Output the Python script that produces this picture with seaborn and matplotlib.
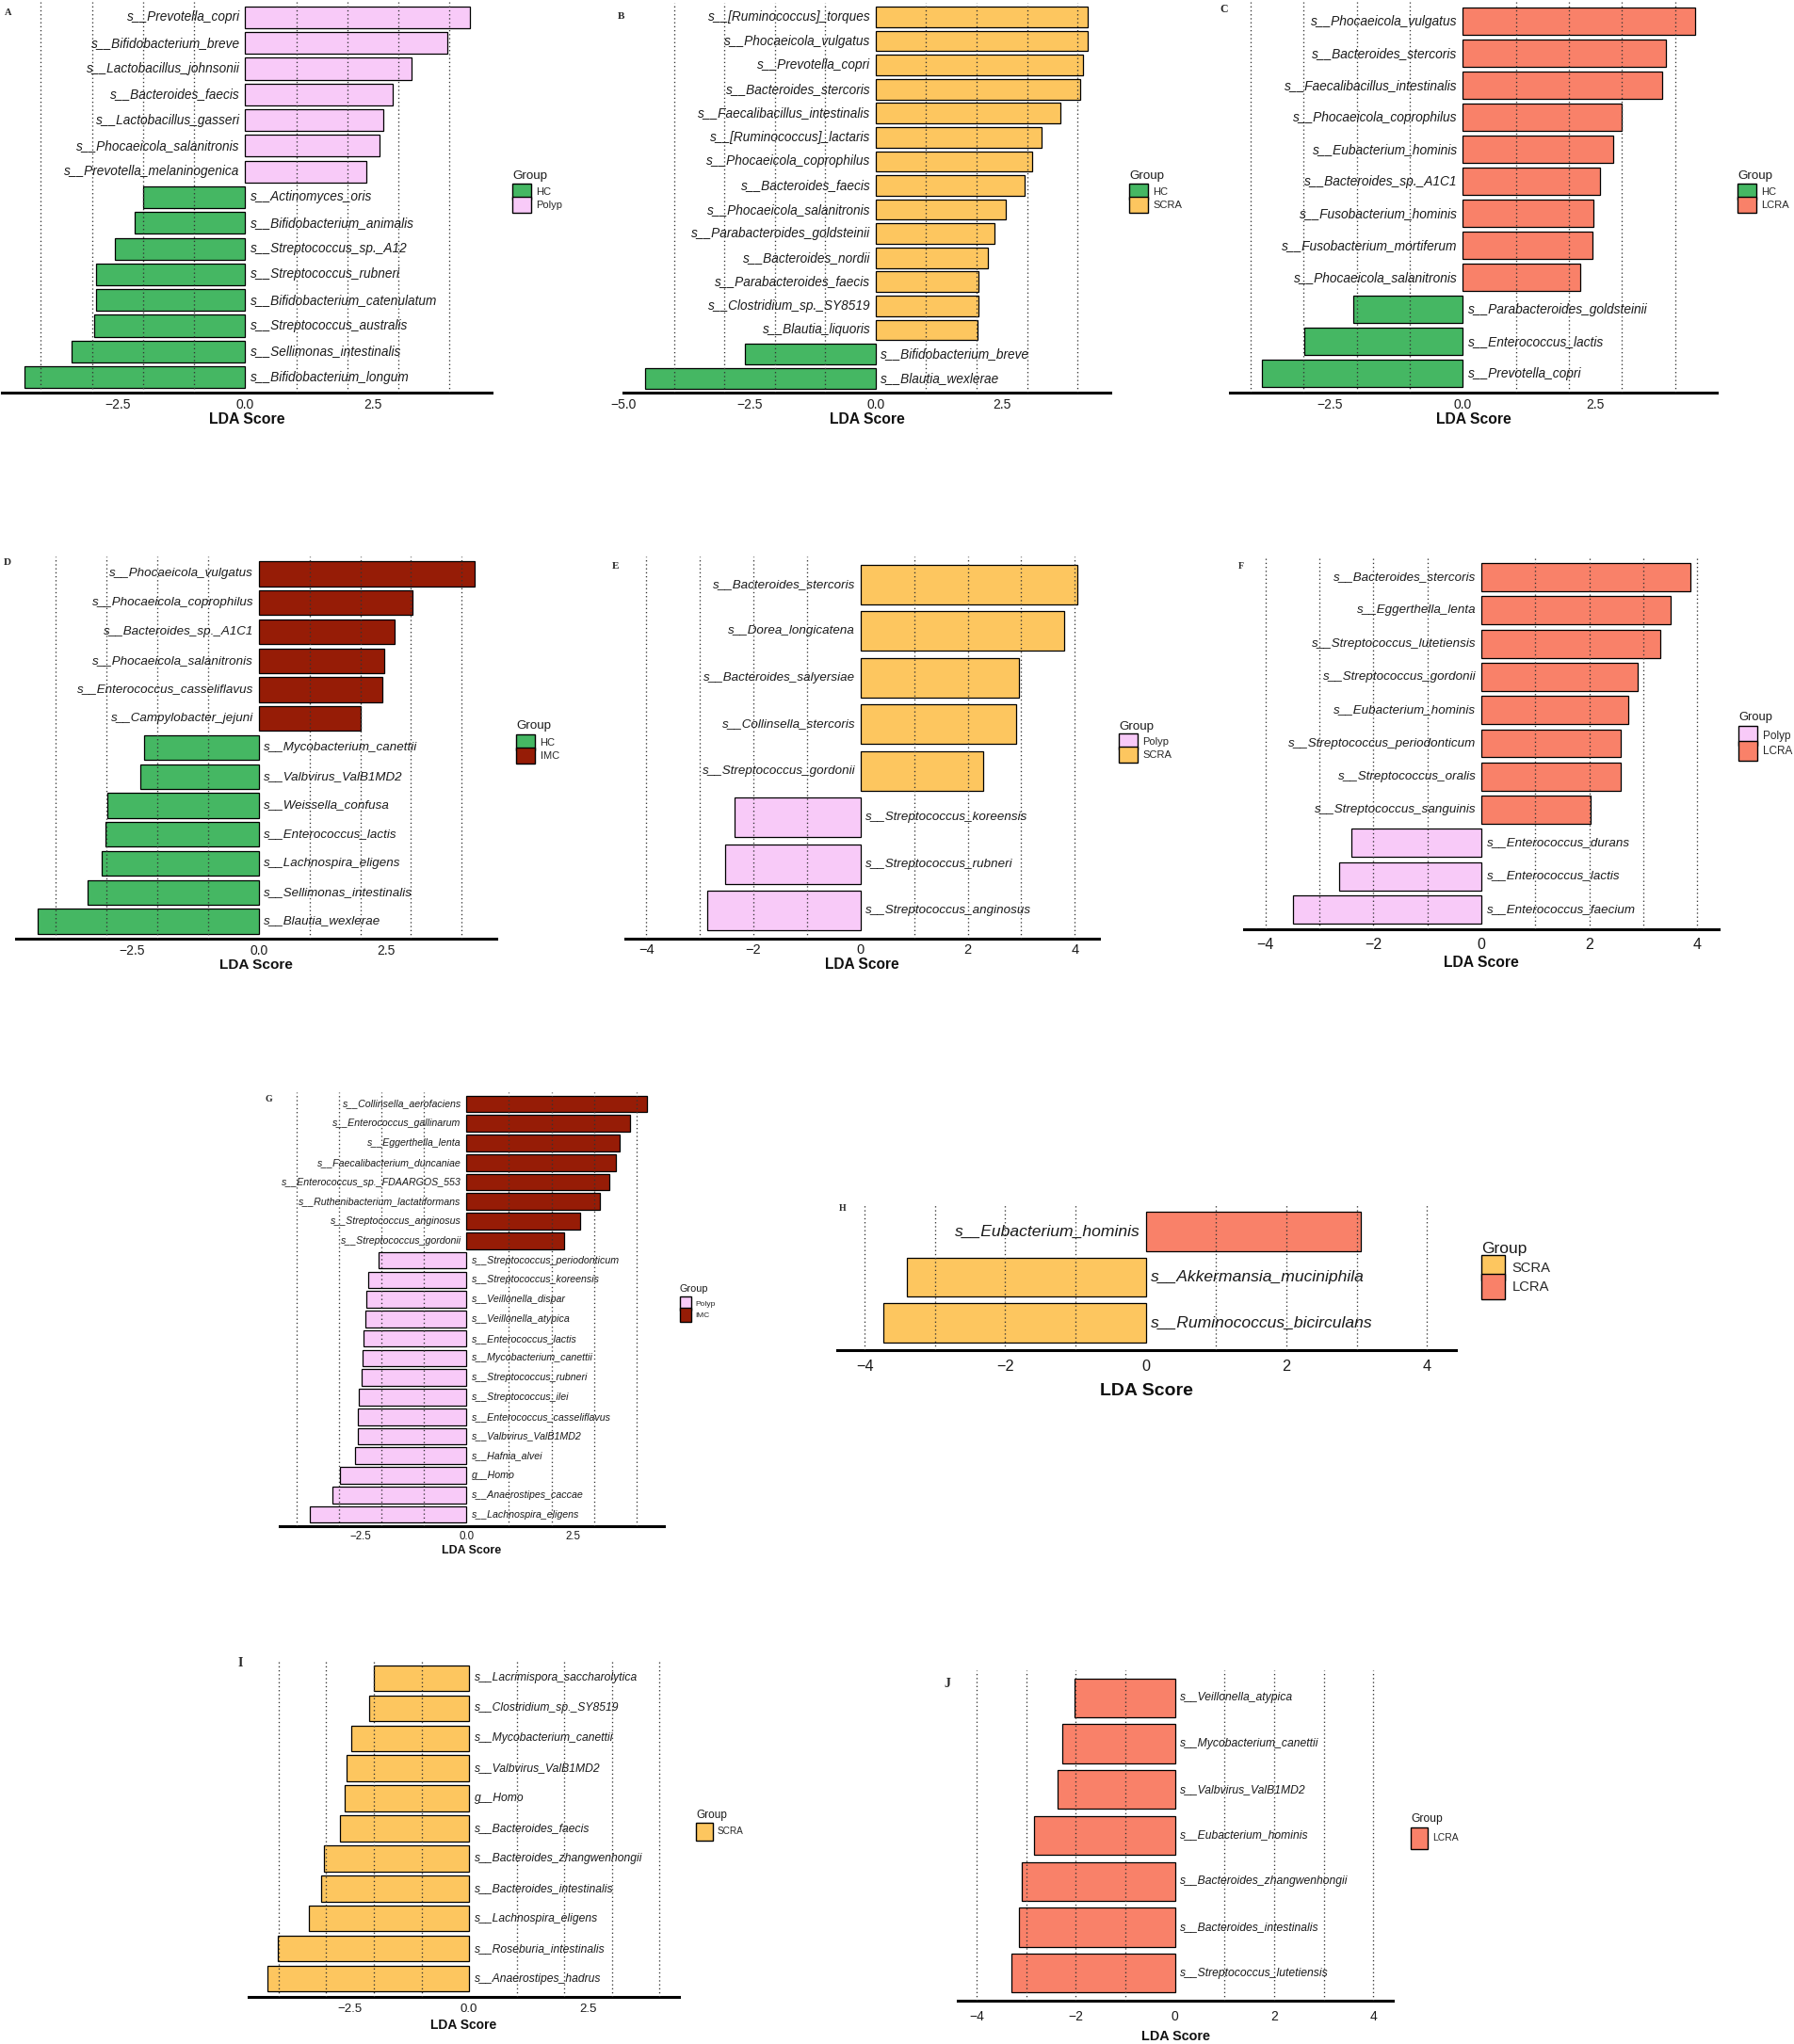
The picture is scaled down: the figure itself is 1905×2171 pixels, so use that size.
import matplotlib
matplotlib.use("Agg")
import matplotlib.pyplot as plt
from matplotlib.patches import Patch
from matplotlib.transforms import offset_copy
import pandas as pd
import seaborn as sns

sns.set_style("white")
plt.rcParams["font.family"] = ["Liberation Sans", "DejaVu Sans"]

W, H, DPI = 1906, 2171, 100

colors = {"HC": "#45B763", "Polyp": "#F8CAF8", "SCRA": "#FDC65F",
          "LCRA": "#F98169", "IMC": "#961C06"}

# ---- data ----
names_a = ["s__Prevotella_copri", "s__Bifidobacterium_breve", "s__Lactobacillus_johnsonii",
           "s__Bacteroides_faecis", "s__Lactobacillus_gasseri", "s__Phocaeicola_salanitronis",
           "s__Prevotella_melaninogenica", "s__Actinomyces_oris", "s__Bifidobacterium_animalis",
           "s__Streptococcus_sp._A12", "s__Streptococcus_rubneri", "s__Bifidobacterium_catenulatum",
           "s__Streptococcus_australis", "s__Sellimonas_intestinalis", "s__Bifidobacterium_longum"]
scores_a = [4.40, 3.95, 3.26, 2.88, 2.70, 2.63, 2.37, -2.00, -2.16, -2.55, -2.91, -2.92, -2.96, -3.40, -4.32]
groups_a = ["Polyp"] * 7 + ["HC"] * 8

names_b = ["s__[Ruminococcus]_torques", "s__Phocaeicola_vulgatus", "s__Prevotella_copri",
           "s__Bacteroides_stercoris", "s__Faecalibacillus_intestinalis", "s__[Ruminococcus]_lactaris",
           "s__Phocaeicola_coprophilus", "s__Bacteroides_faecis", "s__Phocaeicola_salanitronis",
           "s__Parabacteroides_goldsteinii", "s__Bacteroides_nordii", "s__Parabacteroides_faecis",
           "s__Clostridium_sp._SY8519", "s__Blautia_liquoris", "s__Bifidobacterium_breve",
           "s__Blautia_wexlerae"]
scores_b = [4.21, 4.20, 4.11, 4.05, 3.67, 3.29, 3.10, 2.95, 2.57, 2.36, 2.23, 2.04, 2.04, 2.02, -2.59, -4.57]
groups_b = ["SCRA"] * 14 + ["HC"] * 2

names_c = ["s__Phocaeicola_vulgatus", "s__Bacteroides_stercoris", "s__Faecalibacillus_intestinalis",
           "s__Phocaeicola_coprophilus", "s__Eubacterium_hominis", "s__Bacteroides_sp._A1C1",
           "s__Fusobacterium_hominis", "s__Fusobacterium_mortiferum", "s__Phocaeicola_salanitronis",
           "s__Parabacteroides_goldsteinii", "s__Enterococcus_lactis", "s__Prevotella_copri"]
scores_c = [4.38, 3.83, 3.76, 3.00, 2.84, 2.58, 2.47, 2.44, 2.22, -2.07, -2.99, -3.78]
groups_c = ["LCRA"] * 9 + ["HC"] * 3

names_d = ["s__Phocaeicola_vulgatus", "s__Phocaeicola_coprophilus", "s__Bacteroides_sp._A1C1",
           "s__Phocaeicola_salanitronis", "s__Enterococcus_casseliflavus", "s__Campylobacter_jejuni",
           "s__Mycobacterium_canettii", "s__Valbvirus_ValB1MD2", "s__Weissella_confusa",
           "s__Enterococcus_lactis", "s__Lachnospira_eligens", "s__Sellimonas_intestinalis",
           "s__Blautia_wexlerae"]
scores_d = [4.25, 3.03, 2.67, 2.48, 2.44, 2.01, -2.26, -2.33, -2.99, -3.02, -3.10, -3.37, -4.35]
groups_d = ["IMC"] * 6 + ["HC"] * 7

names_e = ["s__Bacteroides_stercoris", "s__Dorea_longicatena", "s__Bacteroides_salyersiae",
           "s__Collinsella_stercoris", "s__Streptococcus_gordonii", "s__Streptococcus_koreensis",
           "s__Streptococcus_rubneri", "s__Streptococcus_anginosus"]
scores_e = [4.05, 3.80, 2.96, 2.91, 2.29, -2.36, -2.53, -2.86]
groups_e = ["SCRA"] * 5 + ["Polyp"] * 3

names_f = ["s__Bacteroides_stercoris", "s__Eggerthella_lenta", "s__Streptococcus_lutetiensis",
           "s__Streptococcus_gordonii", "s__Eubacterium_hominis", "s__Streptococcus_periodonticum",
           "s__Streptococcus_oralis", "s__Streptococcus_sanguinis", "s__Enterococcus_durans",
           "s__Enterococcus_lactis", "s__Enterococcus_faecium"]
scores_f = [3.88, 3.51, 3.32, 2.90, 2.73, 2.59, 2.58, 2.02, -2.41, -2.63, -3.50]
groups_f = ["LCRA"] * 8 + ["Polyp"] * 3

names_g = ["s__Collinsella_aerofaciens", "s__Enterococcus_gallinarum", "s__Eggerthella_lenta",
           "s__Faecalibacterium_duncaniae", "s__Enterococcus_sp._FDAARGOS_553",
           "s__Ruthenibacterium_lactatiformans", "s__Streptococcus_anginosus",
           "s__Streptococcus_gordonii", "s__Streptococcus_periodonticum", "s__Streptococcus_koreensis",
           "s__Veillonella_dispar", "s__Veillonella_atypica", "s__Enterococcus_lactis",
           "s__Mycobacterium_canettii", "s__Streptococcus_rubneri", "s__Streptococcus_ilei",
           "s__Enterococcus_casseliflavus", "s__Valbvirus_ValB1MD2", "s__Hafnia_alvei", "g__Homo",
           "s__Anaerostipes_caccae", "s__Lachnospira_eligens"]
scores_g = [4.25, 3.85, 3.61, 3.52, 3.36, 3.15, 2.68, 2.29, -2.07, -2.31, -2.37, -2.38, -2.43,
            -2.45, -2.46, -2.54, -2.55, -2.56, -2.62, -2.99, -3.15, -3.70]
groups_g = ["IMC"] * 8 + ["Polyp"] * 14

names_h = ["s__Eubacterium_hominis", "s__Akkermansia_muciniphila", "s__Ruminococcus_bicirculans"]
scores_h = [3.06, -3.40, -3.73]
groups_h = ["LCRA", "SCRA", "SCRA"]

names_i = ["s__Lacrimispora_saccharolytica", "s__Clostridium_sp._SY8519", "s__Mycobacterium_canettii",
           "s__Valbvirus_ValB1MD2", "g__Homo", "s__Bacteroides_faecis", "s__Bacteroides_zhangwenhongii",
           "s__Bacteroides_intestinalis", "s__Lachnospira_eligens", "s__Roseburia_intestinalis",
           "s__Anaerostipes_hadrus"]
scores_i = [-1.99, -2.10, -2.47, -2.57, -2.62, -2.72, -3.05, -3.10, -3.36, -4.01, -4.23]
groups_i = ["SCRA"] * 11

names_j = ["s__Veillonella_atypica", "s__Mycobacterium_canettii", "s__Valbvirus_ValB1MD2",
           "s__Eubacterium_hominis", "s__Bacteroides_zhangwenhongii", "s__Bacteroides_intestinalis",
           "s__Streptococcus_lutetiensis"]
scores_j = [-2.02, -2.28, -2.37, -2.85, -3.09, -3.14, -3.30]
groups_j = ["LCRA"] * 7

# ---- layout (pixels in the 1906x2171 canvas) ----
# leg = (x, title top, key top, title size, label size, key w, key h)
half = [-2.5, 0, 2.5]
ints = [-4, -2, 0, 2, 4]
panels = [
    dict(letter="A", data=(names_a, scores_a, groups_a), order=["HC", "Polyp"],
         box=(2, 2, 522, 417), xlim=(-4.76, 4.82), ticks=half, fs=(9.8, 10, 11.4),
         tick_y=428, xl_y=444, leg=(544, 184, 200, 9.6, 8, 20, 17), lpos=(9, 14, 7.5)),
    dict(letter="B", data=(names_b, scores_b, groups_b), order=["HC", "SCRA"],
         box=(662, 2.6, 1179, 417), xlim=(-5.0, 4.65), ticks=[-5, -2.5, 0, 2.5], fs=(9.8, 10, 11.3),
         tick_y=428, xl_y=444, leg=(1199, 184, 200, 9.6, 8, 20, 17), lpos=(659, 18, 8)),
    dict(letter="C", data=(names_c, scores_c, groups_c), order=["HC", "LCRA"],
         box=(1306, 2.3, 1823, 417), xlim=(-4.39, 4.79), ticks=half, fs=(9.9, 10, 11.3),
         tick_y=428, xl_y=444, leg=(1845, 184, 200, 9.6, 8, 20, 17), lpos=(1300, 10, 8.5)),
    dict(letter="D", data=(names_d, scores_d, groups_d), order=["HC", "IMC"],
         box=(17, 591, 527, 997), xlim=(-4.78, 4.68), ticks=half, fs=(9.6, 10, 11.1),
         tick_y=1008, xl_y=1023, leg=(548, 768, 785, 9.6, 8, 20, 17), lpos=(8, 597, 8)),
    dict(letter="E", data=(names_e, scores_e, groups_e), order=["Polyp", "SCRA"],
         box=(664, 591, 1167, 997), xlim=(-4.39, 4.45), ticks=ints, fs=(9.6, 10.5, 11.2),
         tick_y=1008, xl_y=1023, leg=(1188, 769, 784, 9.6, 8, 20, 17), lpos=(654, 602, 8)),
    dict(letter="F", data=(names_f, scores_f, groups_f), order=["Polyp", "LCRA"],
         box=(1321, 592, 1825, 987), xlim=(-4.40, 4.40), ticks=ints, fs=(9.6, 11.5, 11.3),
         tick_y=1002, xl_y=1021, leg=(1846, 759, 778, 9.3, 8.5, 20, 21), lpos=(1318, 602, 7)),
    dict(letter="G", data=(names_g, scores_g, groups_g), order=["Polyp", "IMC"],
         box=(297, 1160, 705, 1621), xlim=(-4.40, 4.65), ticks=half, fs=(7.7, 8.3, 8.9),
         tick_y=1630, xl_y=1646, leg=(722, 1366, 1382, 7.8, 6, 12, 15), lpos=(285, 1167, 7)),
    dict(letter="H", data=(names_h, scores_h, groups_h), order=["SCRA", "LCRA"],
         box=(889, 1279, 1546, 1434), xlim=(-4.39, 4.41), ticks=ints, fs=(12.6, 11.7, 14),
         tick_y=1450, xl_y=1475, leg=(1573, 1322, 1342, 12.5, 10.6, 25, 27), lpos=(895, 1283, 7)),
    dict(letter="I", data=(names_i, scores_i, groups_i), order=["SCRA"],
         box=(264, 1763, 721, 2121), xlim=(-4.63, 4.41), ticks=half, fs=(8.7, 9.5, 10),
         tick_y=2133, xl_y=2150, leg=(739, 1924, 1942, 8.5, 7.2, 18, 19), lpos=(255, 1767, 10)),
    dict(letter="J", data=(names_j, scores_j, groups_j), order=["LCRA"],
         box=(1017, 1774, 1479, 2125), xlim=(-4.38, 4.39), ticks=ints, fs=(8.7, 10, 10.4),
         tick_y=2140, xl_y=2162, leg=(1498, 1928, 1949, 8.7, 7.5, 18, 23), lpos=(1006, 1788, 10)),
]


def fmt(v, step):
    s = f"{v:.1f}" if step == 2.5 else f"{int(v)}"
    return s.replace("-", "\u2212")


fig = plt.figure(figsize=(W / DPI, H / DPI), dpi=DPI)

for p in panels:
    names, scores, groups = p["data"]
    n = len(names)
    l, t, r, b = p["box"]
    sp_fs, tk_fs, xl_fs = p["fs"]
    ax = fig.add_axes([l / W, 1 - b / H, (r - l) / W, (b - t) / H])
    df = pd.DataFrame({"name": names, "score": scores, "group": groups})
    sns.barplot(data=df, x="score", y="name", hue="group", order=names, hue_order=p["order"],
                palette=colors, dodge=False, width=0.85, saturation=1, edgecolor="black",
                linewidth=0.9, orient="h", legend=False, ax=ax, zorder=2)
    ax.set_xlim(*p["xlim"])
    ax.set_ylim(n - 0.4, -0.6)
    for v in range(-4, 5):
        if v != 0:
            ax.axvline(v, color="#333333", lw=0.95, ls=(0, (1, 2.2)), zorder=3)
    for side in ["top", "left", "right"]:
        ax.spines[side].set_visible(False)
    ax.spines["bottom"].set_linewidth(2.2)
    ax.spines["bottom"].set_color("black")
    ax.set_yticks([])
    ax.set_ylabel("")
    ax.set_xlabel("")
    step = 2.5 if 2.5 in p["ticks"] else 2
    ax.set_xticks(p["ticks"])
    ax.set_xticklabels([fmt(v, step) for v in p["ticks"]])
    tk_px = tk_fs / 0.72
    pad_px = (p["tick_y"] - b) - 0.38 * tk_px
    ax.tick_params(axis="x", length=0, pad=pad_px * 0.72, labelsize=tk_fs, labelcolor="#1a1a1a")

    # species names next to the zero line
    left_tr = offset_copy(ax.transData, fig=fig, x=-4, y=0, units="points")
    right_tr = offset_copy(ax.transData, fig=fig, x=4, y=0, units="points")
    for i, (nm, sc) in enumerate(zip(names, scores)):
        if sc > 0:
            ax.text(0, i, nm, ha="right", va="center", style="italic", fontsize=sp_fs,
                    color="#1a1a1a", transform=left_tr)
        else:
            ax.text(0, i, nm, ha="left", va="center", style="italic", fontsize=sp_fs,
                    color="#1a1a1a", transform=right_tr)

    # x label
    xl_px = xl_fs / 0.72
    fig.text((l + r) / 2 / W, 1 - (p["xl_y"] + 0.36 * xl_px) / H, "LDA Score",
             ha="center", va="baseline", fontsize=xl_fs, fontweight="bold", color="#111111")

    # legend: title as plain text, ggplot style keys stacked almost touching
    lx, ttop, ktop, ttl_fs, lab_fs, kw, kh = p["leg"]
    fig.text(lx / W, 1 - (ttop - 0.2 * ttl_fs / 0.72) / H, "Group", ha="left", va="top",
             fontsize=ttl_fs, color="#1a1a1a")
    lab_px = lab_fs / 0.72
    hh = (kh / lab_px - 0.245) / 0.65
    descent = 0.35 * lab_px * (hh - 0.7)
    handles = [Patch(facecolor=colors[g], edgecolor="black", linewidth=1.0, label=g)
               for g in p["order"]]
    ax.legend(handles=handles, loc="upper left",
              bbox_to_anchor=(lx / W, 1 - (ktop - descent) / H),
              bbox_transform=fig.transFigure, frameon=False, fontsize=lab_fs,
              handlelength=kw / lab_px, handleheight=hh,
              labelspacing=(1.5 - descent) / lab_px, handletextpad=0.5, borderpad=0,
              borderaxespad=0)

    # panel letter
    px_, py_, lfs = p["lpos"]
    fig.text(px_ / W, 1 - py_ / H, p["letter"], ha="center", va="center", fontsize=lfs,
             family="Liberation Serif", fontweight="bold")

fig.savefig("out.png", dpi=DPI)
